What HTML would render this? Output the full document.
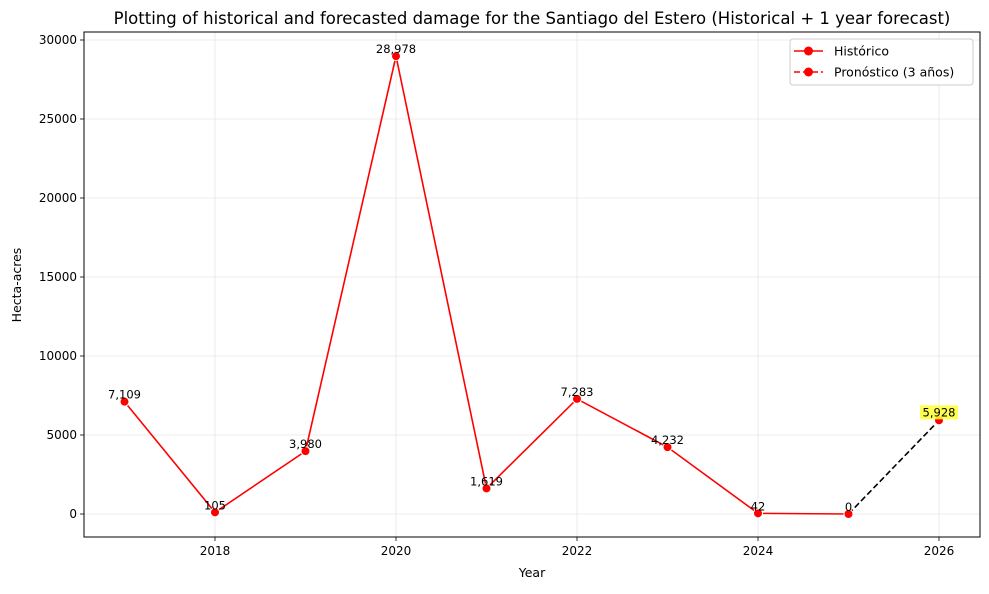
<!DOCTYPE html>
<html><head><meta charset="utf-8"><style>
body{margin:0;background:#fff;font-family:"DejaVu Sans","Liberation Sans",sans-serif;}
svg text{font-family:"DejaVu Sans","Liberation Sans",sans-serif;}
</style></head><body>
<svg id="chart" width="989" height="590"></svg>
<script>
const years=[2017,2018,2019,2020,2021,2022,2023,2024,2025];
const histValues=[7109,105,3980,28978,1619,7283,4232,42,0];
const forecastYears=[2025,2026];
const forecastValues=[0,5928];
const xTicks=[2018,2020,2022,2024,2026];
const yTicks=[0,5000,10000,15000,20000,25000,30000];

const L=84,R=980,T=32,B=537;
const X=y=>215+(y-2018)*90.5;
const Y=v=>514-v*(474/30000);
const svg=document.getElementById('chart');
const NS='http://www.w3.org/2000/svg';
function mk(tag,attrs,parent){const e=document.createElementNS(NS,tag);for(const k in attrs)e.setAttribute(k,attrs[k]);(parent||svg).appendChild(e);return e;}
const fmt=v=>v.toLocaleString('en-US');

let t=mk('text',{x:532,y:24,'text-anchor':'middle','font-size':16.5,fill:'#000'});
t.textContent='Plotting of historical and forecasted damage for the Santiago del Estero (Historical + 1 year forecast)';



const grid=mk('g',{});


xTicks.forEach(v=>{
  mk('line',{x1:X(v),x2:X(v),y1:T,y2:B,stroke:'#e6e6e6','stroke-width':0.8},grid);
  mk('line',{x1:X(v),x2:X(v),y1:B,y2:B+4,stroke:'#000','stroke-width':0.8});
  const tx=mk('text',{x:X(v),y:B+18,'text-anchor':'middle','font-size':12});tx.textContent=v;
  
  
});
yTicks.forEach(v=>{
  mk('line',{x1:L,x2:R,y1:Y(v),y2:Y(v),stroke:'#e6e6e6','stroke-width':0.8},grid);
  mk('line',{x1:L-4,x2:L,y1:Y(v),y2:Y(v),stroke:'#000','stroke-width':0.8});
  const tx=mk('text',{x:L-7,y:Y(v)+4,'text-anchor':'end','font-size':12});tx.textContent=v;
  
  
});
const frame=mk('rect',{x:L,y:T,width:R-L,height:B-T,fill:'none',stroke:'#000','stroke-width':1});


t=mk('text',{x:532,y:577,'text-anchor':'middle','font-size':12.5});t.textContent='Year';


t=mk('text',{x:21,y:285,'text-anchor':'middle','font-size':12.5,transform:'rotate(-90 21 285)'});t.textContent='Hecta-acres';



let p=mk('polyline',{points:forecastYears.map((y,i)=>X(y)+','+Y(forecastValues[i])).join(' '),fill:'none',stroke:'#000','stroke-width':1.6,'stroke-dasharray':'6,3'});


p=mk('polyline',{points:years.map((y,i)=>X(y)+','+Y(histValues[i])).join(' '),fill:'none',stroke:'#f00','stroke-width':1.6});



years.forEach((y,i)=>{
  const c=mk('circle',{cx:X(y),cy:Y(histValues[i]),r:4.5,fill:'#f00',stroke:'#fff','stroke-width':1});
  
  
  const lb=mk('text',{x:X(y),y:Y(histValues[i])-3,'text-anchor':'middle','font-size':11.5});lb.textContent=fmt(histValues[i]);
  
  
});
{
  const y=forecastYears[1],v=forecastValues[1];
  const c=mk('circle',{cx:X(y),cy:Y(v),r:4.5,fill:'#f00',stroke:'#fff','stroke-width':1});
  
  
  const bg=mk('rect',{x:X(y)-19,y:Y(v)-15,width:38,height:14,fill:'#ffff33',opacity:0.85});
  
  
  const lb=mk('text',{x:X(y),y:Y(v)-4,'text-anchor':'middle','font-size':11.5});lb.textContent=fmt(v);
  
  
}

const lg=mk('g',{});


mk('rect',{x:790,y:39,width:183,height:46,rx:3,fill:'#fff',stroke:'#ccc'},lg);
mk('line',{x1:794,x2:823,y1:51,y2:51,stroke:'#f00','stroke-width':1.6},lg);
mk('circle',{cx:808.5,cy:51,r:4.5,fill:'#f00'},lg);
let e=mk('text',{x:834,y:55.5,'font-size':12.5},lg);e.textContent='Histórico';


mk('line',{x1:794,x2:823,y1:72,y2:72,stroke:'#f00','stroke-width':1.6,'stroke-dasharray':'6,3'},lg);
mk('circle',{cx:808.5,cy:72,r:4.5,fill:'#f00'},lg);
e=mk('text',{x:834,y:76.5,'font-size':12.5},lg);e.textContent='Pronóstico (3 años)';


</script>
</body></html>
